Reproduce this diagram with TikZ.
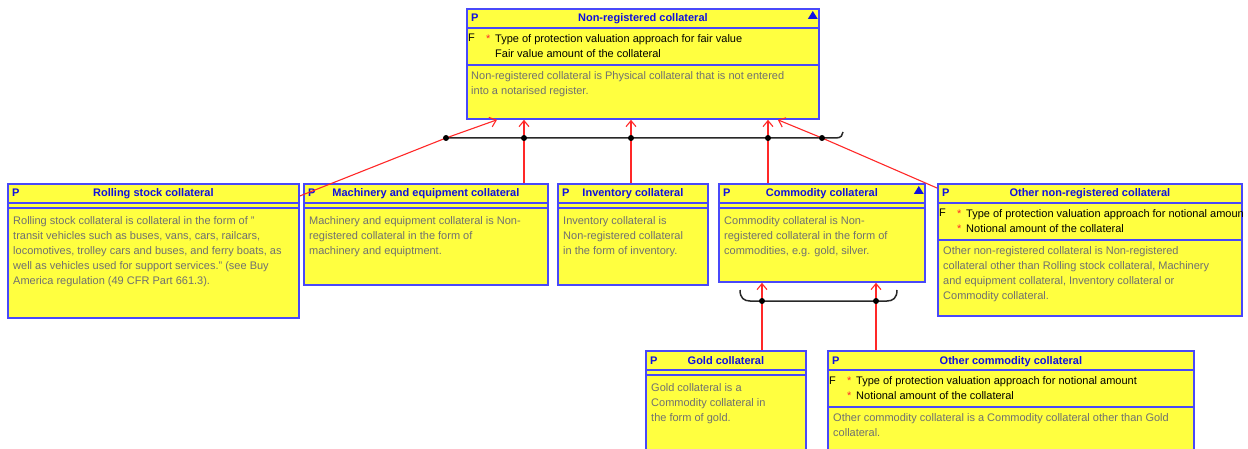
\documentclass[tikz,border=0pt]{standalone}
\usepackage{fontspec}
\setmainfont{Liberation Sans}
\usetikzlibrary{arrows.meta, calc, positioning}
\definecolor{ClassFill}{RGB}{255,255,64}
\definecolor{ClassEdge}{RGB}{72,72,250}
\definecolor{NameBlue}{RGB}{16,16,224}
\definecolor{DescGray}{RGB}{112,112,112}
\definecolor{GenRed}{RGB}{255,40,40}
\definecolor{BarGray}{RGB}{40,40,40}

\begin{document}
\begin{tikzpicture}[x=1pt, y=-1pt,
        cls/.style={draw=ClassEdge, line width=1.8pt, fill=ClassFill, anchor=north west, inner sep=0},
        sep/.style={draw=ClassEdge, line width=1.8pt},
        clsname/.style={font=\fontsize{11}{15}\selectfont\bfseries, text=NameBlue, inner sep=0, anchor=base},
        ptag/.style={clsname, anchor=base west},
        desc/.style={font=\fontsize{11}{15}\selectfont, text=DescGray, inner sep=0, anchor=north west, align=left},
        attr/.style={desc, text=black},
        star/.style={desc, text=GenRed},
        ftag/.style={attr, anchor=base west},
        abstr/.style={fill=NameBlue},
        gen/.style={draw=GenRed, line width=1.1pt, -{Straight Barb[length=6pt, width=10pt]}},
        bar/.style={draw=BarGray, line width=1.5pt},
        joint/.style={fill=black}
    ]
    \clip (0,0) rectangle (1248,449);
    \fill[white] (0,0) rectangle (1248,449);

    % class boxes
    \node[cls, minimum width=352, minimum height=110] (nonreg) at (466,8) {};
    \node[cls, minimum width=291, minimum height=134] (rolling) at (7,183) {};
    \node[cls, minimum width=244, minimum height=101] (machinery) at (303,183) {};
    \node[cls, minimum width=150, minimum height=101] (inventory) at (557,183) {};
    \node[cls, minimum width=206, minimum height=98] (commodity) at (718,183) {};
    \node[cls, minimum width=304, minimum height=132] (othernr) at (937,183) {};
    \node[cls, minimum width=160, minimum height=120] (gold) at (645,350) {};
    \node[cls, minimum width=366, minimum height=120] (othercom) at (827,350) {};

    % compartments
    \foreach \c/\a in {nonreg/57, othernr/57, othercom/57, rolling/25, machinery/25, inventory/25, commodity/25, gold/25} {
        \draw[sep] ($(\c.north west)+(0,20)$) -- ($(\c.north east)+(0,20)$);
        \draw[sep] ($(\c.north west)+(0,\a)$) -- ($(\c.north east)+(0,\a)$);
    }

    % headers
    \foreach \c/\t in {nonreg/Non-registered collateral, rolling/Rolling stock collateral,
                       machinery/Machinery and equipment collateral, inventory/Inventory collateral,
                       commodity/Commodity collateral, othernr/Other non-registered collateral,
                       gold/Gold collateral, othercom/Other commodity collateral} {
        \node[ptag] (\c-p) at ($(\c.north west)+(5,14)$) {P};
        \node[clsname] (\c-t) at ($(\c.north)+(0,14)$) {\t};
    }
    \fill[abstr] ($(nonreg.north east)+(-12,11)$) -- ++(10,0) -- ++(-5,-8) -- cycle;
    \fill[abstr] ($(commodity.north east)+(-12,11)$) -- ++(10,0) -- ++(-5,-8) -- cycle;

    % attributes
    \node[ftag] (nonreg-f) at ($(nonreg.north west)+(2,34)$) {F};
    \node[star] (nonreg-s) at ($(nonreg.north west)+(20,23.5)$) {\strut*};
    \node[attr] (nonreg-a) at ($(nonreg.north west)+(29,23.5)$) {\strut Type of protection valuation approach for fair value\\Fair value amount of the collateral};

    \node[ftag] (othernr-f) at ($(othernr.north west)+(2,34)$) {F};
    \node[star] (othernr-s) at ($(othernr.north west)+(20,23.5)$) {\strut*\\*};
    \begin{scope}
        \clip (othernr.north west) rectangle (othernr.south east);
        \node[attr] (othernr-a) at ($(othernr.north west)+(29,23.5)$) {\strut Type of protection valuation approach for notional amount\\Notional amount of the collateral};
    \end{scope}

    \node[ftag] (othercom-f) at ($(othercom.north west)+(2,34)$) {F};
    \node[star] (othercom-s) at ($(othercom.north west)+(20,23.5)$) {\strut*\\*};
    \node[attr] (othercom-a) at ($(othercom.north west)+(29,23.5)$) {\strut Type of protection valuation approach for notional amount\\Notional amount of the collateral};

    % descriptions
    \node[desc] (nonreg-d) at ($(nonreg.north west)+(5,60.5)$) {\strut Non-registered collateral is Physical collateral that is not entered\\into a notarised register.};
    \node[desc] (rolling-d) at ($(rolling.north west)+(6,30.5)$) {\strut Rolling stock collateral is collateral in the form of "\\transit vehicles such as buses, vans, cars, railcars,\\locomotives, trolley cars and buses, and ferry boats, as\\well as vehicles used for support services." (see Buy\\America regulation (49 CFR Part 661.3).};
    \node[desc] (machinery-d) at ($(machinery.north west)+(6,30.5)$) {\strut Machinery and equipment collateral is Non-\\registered collateral in the form of\\machinery and equiptment.};
    \node[desc] (inventory-d) at ($(inventory.north west)+(6,30.5)$) {\strut Inventory collateral is\\Non-registered collateral\\in the form of inventory.};
    \node[desc] (commodity-d) at ($(commodity.north west)+(6,30.5)$) {\strut Commodity collateral is Non-\\registered collateral in the form of\\commodities, e.g. gold, silver.};
    \node[desc] (othernr-d) at ($(othernr.north west)+(6,60.5)$) {\strut Other non-registered collateral is Non-registered\\collateral other than Rolling stock collateral, Machinery\\and equipment collateral, Inventory collateral or\\Commodity collateral.};
    \node[desc] (gold-d) at ($(gold.north west)+(6,30.5)$) {\strut Gold collateral is a\\Commodity collateral in\\the form of gold.};
    \node[desc] (othercom-d) at ($(othercom.north west)+(6,60.5)$) {\strut Other commodity collateral is a Commodity collateral other than Gold\\collateral.};

    % generalisation sets
    \coordinate (j1) at (446,138);
    \coordinate (j2) at (524,138);
    \coordinate (j3) at (631,138);
    \coordinate (j4) at (768,138);
    \coordinate (j5) at (822,138);
    \coordinate (k1) at (762,301);
    \coordinate (k2) at (876,301);

    \draw[bar] (j1) -- ($(j5)+(14,0)$) .. controls +(5,0) and +(0,3) .. ($(j5)+(21,-6)$);
    \draw[bar] ($(k1)+(-22,-11)$) .. controls +(0,8) and +(-6,0) .. ($(k1)+(-12,0)$)
        -- ($(k2)+(11,0)$) .. controls +(6,0) and +(0,8) .. ($(k2)+(21,-11)$);

    \draw[gen] ($(rolling.north east)+(0,13)$) -- (j1) -- ($(nonreg.south west)+(31,0)$);
    \draw[gen] (machinery.north -| j2) -- (nonreg.south -| j2);
    \draw[gen] (inventory.north -| j3) -- (nonreg.south -| j3);
    \draw[gen] (commodity.north -| j4) -- (nonreg.south -| j4);
    \draw[gen] ($(othernr.north west)+(0,5)$) -- (j5) -- ($(nonreg.south east)+(-42,0)$);
    \draw[gen] (gold.north -| k1) -- (commodity.south -| k1);
    \draw[gen] (othercom.north -| k2) -- (commodity.south -| k2);

    \foreach \j in {j1,j2,j3,j4,j5,k1,k2}
        \fill[joint] (\j) circle (3);
\end{tikzpicture}
\end{document}
